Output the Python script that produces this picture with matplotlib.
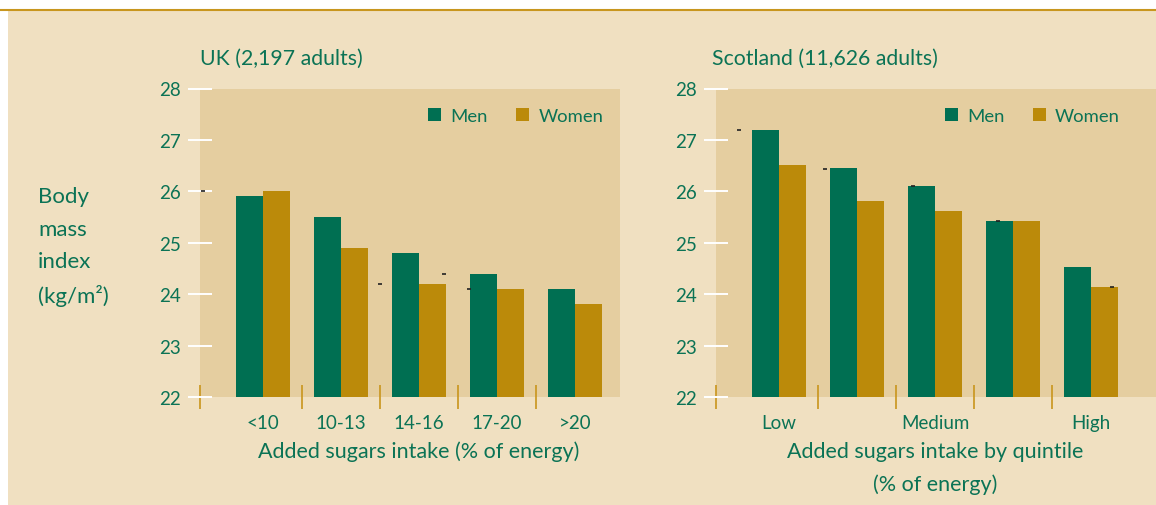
import matplotlib
matplotlib.use("Agg")
import matplotlib.pyplot as plt
from matplotlib.patches import Patch, Rectangle
from matplotlib.lines import Line2D

plt.rcParams['font.family'] = ['Lato', 'DejaVu Sans']

# data
uk_groups = ['<10', '10-13', '14-16', '17-20', '>20']
uk_men = [25.9, 25.5, 24.8, 24.4, 24.1]
uk_women = [26.0, 24.9, 24.2, 24.1, 23.8]

sc_ticks = [0, 2, 4]
sc_labels = ['Low', 'Medium', 'High']
sc_men = [27.2, 26.45, 26.1, 25.42, 24.53]
sc_women = [26.52, 25.82, 25.62, 25.42, 24.14]

# tiny stray marks seen in the source image
uk_marks_x = [-0.77, 1.5, 2.32, 2.64]
uk_marks_y = [26.0, 24.2, 24.4, 24.1]
sc_marks_x = [-0.51, 0.59, 1.72, 2.81, 4.27]
sc_marks_y = [27.2, 26.43, 26.1, 25.42, 24.14]

GREEN = '#006f52'
GOLD = '#bb8a0a'
TXT = '#0b7355'
BG = '#f0e0c1'
PLOTBG = '#e5cea0'
SEP = '#c9951c'

W, H = 1156, 506
fig = plt.figure(figsize=(W / 100, H / 100), dpi=100, facecolor='white')

# page background + top rule
fig.patches.append(Rectangle((8 / W, 0), 1, 1 - 11 / H, transform=fig.transFigure,
                             facecolor=BG, edgecolor='none', zorder=-10))
fig.lines.append(Line2D([0, 1], [1 - 10.5 / H, 1 - 10.5 / H], transform=fig.transFigure,
                        color='#c8961e', lw=1.5))

bottom = 1 - 398 / H
height = (398 - 89.5) / H
ax1 = fig.add_axes([200 / W, bottom, 420 / W, height])
ax2 = fig.add_axes([716 / W, bottom, 440 / W, height])

bw = 0.346


def draw(ax, men, women, xlim, title, title_x):
    x = list(range(len(men)))
    ax.set_facecolor(PLOTBG)
    ax.bar([i - bw / 2 for i in x], men, width=bw, color=GREEN, zorder=2)
    ax.bar([i + bw / 2 for i in x], women, width=bw, color=GOLD, zorder=2)
    ax.set_xlim(*xlim)
    ax.set_ylim(22, 28)
    for s in ax.spines.values():
        s.set_visible(False)
    ax.set_yticks(range(22, 29))
    ax.tick_params(axis='y', direction='inout', length=17, width=1.4, color='white',
                   labelsize=13.5, labelcolor=TXT, pad=5)
    seps = [xlim[0], 0.5, 1.5, 2.5, 3.5]
    ax.set_xticks(seps, minor=True)
    ax.tick_params(axis='x', which='minor', direction='inout', length=17, width=1.2,
                   color=SEP)
    ax.tick_params(axis='x', which='major', length=0, pad=12, labelsize=13.5,
                   labelcolor=TXT)
    ax.text(title_x, 1.1, title, transform=ax.transAxes, fontsize=15.3, color=TXT,
            ha='left', va='center')
    handles = [Patch(facecolor=GREEN, label='Men'), Patch(facecolor=GOLD, label='Women')]
    leg = ax.legend(handles=handles, ncol=2, frameon=False, loc='center right',
                    fontsize=13.3, handlelength=0.72, handleheight=0.72,
                    handletextpad=0.5, columnspacing=1.5, borderpad=0, borderaxespad=0)
    for t in leg.get_texts():
        t.set_color(TXT)
    return leg


leg1 = draw(ax1, uk_men, uk_women, (-0.81, 4.58), 'UK (2,197 adults)', 0.0)
leg1.set_bbox_to_anchor((0.96, 0.91), transform=ax1.transAxes)
ax1.set_xticks(range(len(uk_groups)))
ax1.set_xticklabels(uk_groups)
ax1.scatter(uk_marks_x, uk_marks_y, marker='_', s=6, color='#222222', lw=1.2, zorder=3)
ax1.text(2, -0.175, 'Added sugars intake (% of energy)', transform=ax1.get_xaxis_transform(),
         ha='center', va='center', fontsize=15.5, color=TXT)

leg2 = draw(ax2, sc_men, sc_women, (-0.81, 4.83), 'Scotland (11,626 adults)', -0.009)
leg2.set_bbox_to_anchor((0.918, 0.91), transform=ax2.transAxes)
ax2.set_xticks(sc_ticks)
ax2.set_xticklabels(sc_labels)
ax2.scatter(sc_marks_x, sc_marks_y, marker='_', s=6, color='#222222', lw=1.2, zorder=3)
ax2.text(2, -0.2285, 'Added sugars intake by quintile\n(% of energy)',
         transform=ax2.get_xaxis_transform(), ha='center', va='center', fontsize=15.5,
         color=TXT, linespacing=1.75)

fig.text(38 / W, 1 - 247.5 / H, 'Body\nmass\nindex\n(kg/m\u00b2)', ha='left', va='center',
         fontsize=16, color=TXT, linespacing=1.76)

fig.savefig('out.png', dpi=100, facecolor=fig.get_facecolor())
